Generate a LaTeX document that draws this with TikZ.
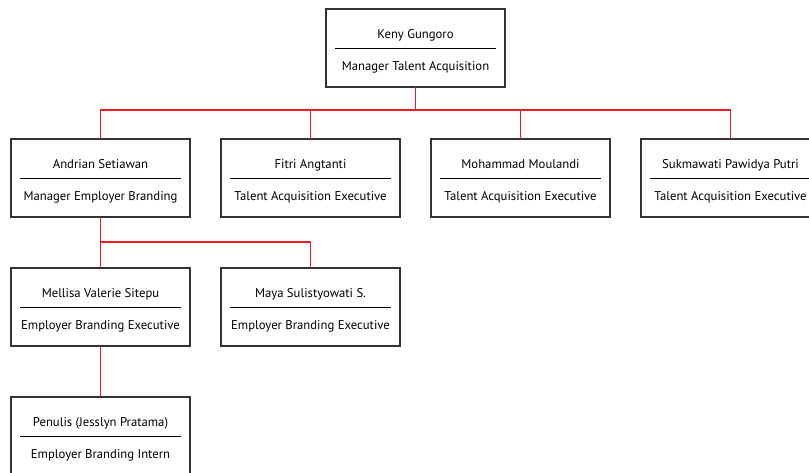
\documentclass[tikz,border=0pt]{standalone}
\usepackage{fontspec}
\setsansfont{PT Sans}
\usetikzlibrary{positioning}

\definecolor{linkred}{HTML}{ED1C24}
\definecolor{boxgray}{HTML}{333333}

\begin{document}
\begin{tikzpicture}[x=1pt,y=-1pt,
  unit/.style={draw=boxgray,line width=1.3pt,minimum width=179pt,minimum height=78pt,
    inner sep=0pt,outer sep=0pt,align=center,font=\sffamily\fontsize{12.7}{15}\selectfont},
  divider/.style={draw=black,line width=1pt},
  link/.style={draw=linkred,line width=1.3pt}]

  \useasboundingbox (0,0) rectangle (809,472);
  \clip (0,0) rectangle (809,472);

  % top
  \node[unit] (kg) at (415.5,48) {\rule{0pt}{15pt}Keny Gungoro\\[17pt]Manager Talent Acquisition};

  % second row
  \node[unit] (as) at (100.5,178) {\rule{0pt}{15pt}Andrian Setiawan\\[17pt]Manager Employer Branding};
  \node[unit] (fa) [right=31pt of as] {\rule{0pt}{15pt}Fitri Angtanti\\[17pt]Talent Acquisition Executive};
  \node[unit] (mm) [right=31pt of fa] {\rule{0pt}{15pt}Mohammad Moulandi\\[17pt]Talent Acquisition Executive};
  \node[unit] (sp) [right=31pt of mm] {\rule{0pt}{15pt}Sukmawati Pawidya Putri\\[17pt]Talent Acquisition Executive};

  % third row
  \node[unit] (mv) [below=51pt of as] {\rule{0pt}{15pt}Mellisa Valerie Sitepu\\[17pt]Employer Branding Executive};
  \node[unit] (ms) [right=31pt of mv] {\rule{0pt}{15pt}Maya Sulistyowati S.\\[17pt]Employer Branding Executive};

  % intern
  \node[unit] (pj) [below=51pt of mv] {\rule{0pt}{15pt}Penulis (Jesslyn Pratama)\\[17pt]Employer Branding Intern};

  \foreach \n in {kg,as,fa,mm,sp,mv,ms,pj}
    \draw[divider] ([xshift=9pt]\n.west) -- ([xshift=-9pt]\n.east);

  \foreach \n in {as,fa,mm,sp}
    \draw[link] (kg.south) |- ([yshift=29pt]\n.north) -- (\n.north);
  \foreach \n in {mv,ms}
    \draw[link] (as.south) |- ([yshift=26pt]\n.north) -- (\n.north);
  \draw[link] (mv.south) -- (pj.north);
\end{tikzpicture}
\end{document}
